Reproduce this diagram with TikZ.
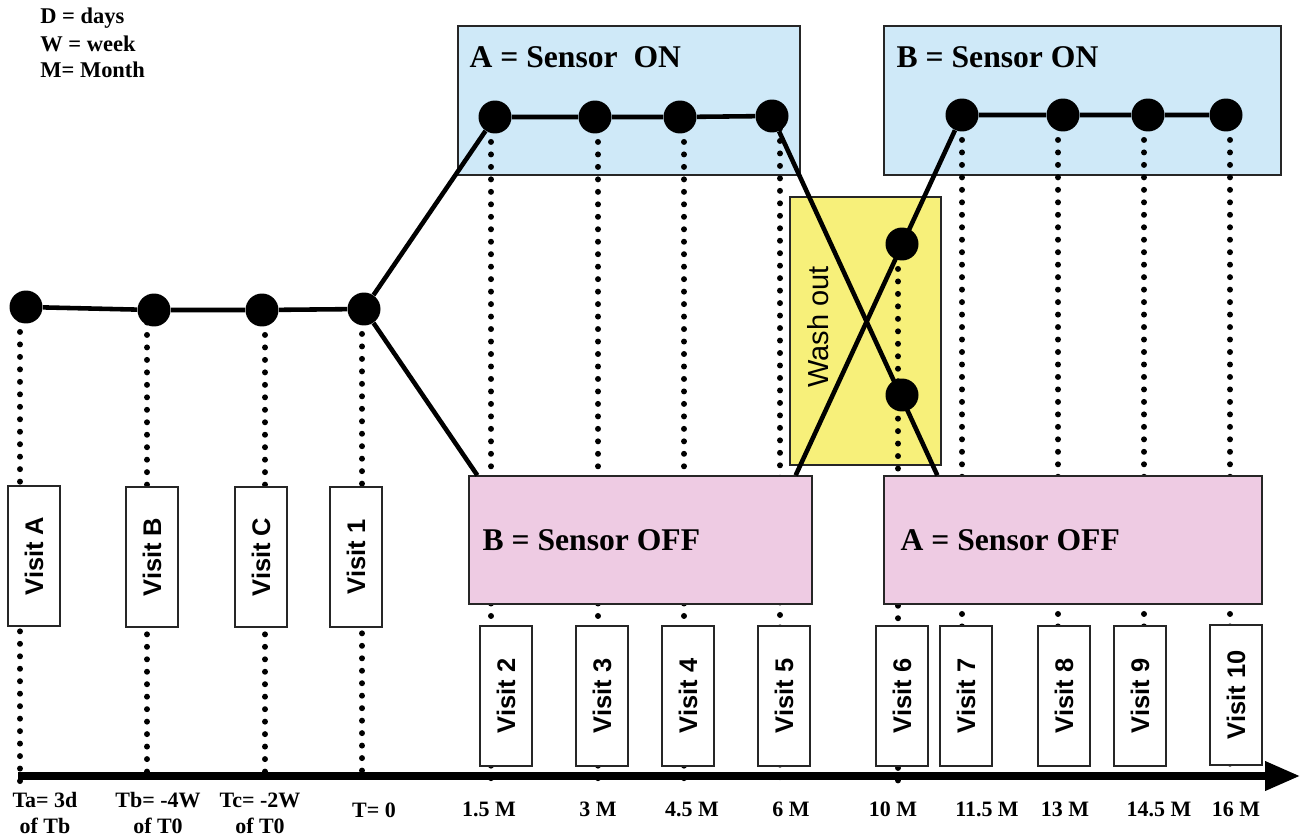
\documentclass[tikz,border=0pt]{standalone}
\usepackage{fontspec}
\setmainfont{Liberation Serif}
\setsansfont{Liberation Sans}
\usepackage{xcolor}
\usepackage{tikz}
\usetikzlibrary{positioning,calc,arrows.meta}
\definecolor{sensoron}{HTML}{CFE9F8}
\definecolor{sensoroff}{HTML}{EECBE3}
\definecolor{washout}{HTML}{F7F07A}

\begin{document}
\begin{tikzpicture}[
    x=0.02cm, y=-0.02cm,
    armbox/.style={draw=black!85, line width=0.8pt, inner sep=0pt},
    onbox/.style={armbox, fill=sensoron, minimum height=2.98cm},
    offbox/.style={armbox, fill=sensoroff, minimum height=2.56cm},
    washbox/.style={armbox, fill=washout, minimum width=3.02cm, minimum height=5.36cm},
    visit/.style={draw=black!85, line width=0.8pt, fill=white, rotate=90, minimum width=2.8cm, minimum height=1.04cm, inner sep=0pt, font=\sffamily\bfseries\fontsize{14.5}{16}\selectfont},
    vdot/.style={circle, fill=black, minimum size=0.66cm, inner sep=0pt},
    link/.style={line width=2.6pt},
    guide/.style={line width=3.4pt, line cap=round, dash pattern=on 0pt off 7.1pt},
    senslbl/.style={font=\bfseries\fontsize{18}{20}\selectfont, inner sep=0pt, anchor=west},
    tlbl/.style={font=\bfseries\fontsize{12.5}{14.8}\selectfont, align=center, inner sep=0pt},
    legend/.style={font=\bfseries\fontsize{12.8}{14}\selectfont, inner sep=0pt, anchor=west}
  ]
  \useasboundingbox (0,0) rectangle (1302,838);
  % legend
  \node[legend] (legd) at (40,18) {D = days};
  \node[legend] (legw) at (40,44) {W = week};
  \node[legend] (legm) at (40,70) {M= Month};
  % arm boxes behind the guides
  \node[onbox, minimum width=6.84cm] (aon) at (629,100.5) {};
  \node[onbox, minimum width=7.94cm] (bon) at (1082.5,100.5) {};
  \node[washbox] (wash) at (865.5,331) {};
  \node[font=\sffamily\fontsize{16.5}{18}\selectfont, rotate=90] (washlbl) at (818,327) {Wash out};
  \node[senslbl] (aonlbl) at ([xshift=0.24cm, yshift=-0.64cm]aon.north west) {A = Sensor\ \ ON};
  \node[senslbl] (bonlbl) at ([xshift=0.26cm, yshift=-0.64cm]bon.north west) {B = Sensor ON};
  % measurement points
  \node[vdot] (dA) at (26,307) {};
  \node[vdot] (dB) at (154,310) {};
  \node[vdot] (dC) at (262,310) {};
  \node[vdot] (d1) at (364,309) {};
  \node[vdot] (d2) at (495,117) {};
  \node[vdot] (d3) at (595,117) {};
  \node[vdot] (d4) at (680,117) {};
  \node[vdot] (d5) at (772,116) {};
  \node[vdot] (d6a) at (902,244) {};
  \node[vdot] (d6b) at (902,395) {};
  \node[vdot] (d7) at (962,115) {};
  \node[vdot] (d8) at (1063,115) {};
  \node[vdot] (d9) at (1148,115) {};
  \node[vdot] (d10) at (1226,115) {};
  % ticks on the time axis
  \coordinate (tA) at (20,783);
  \coordinate (tB) at (147,783);
  \coordinate (tC) at (265,783);
  \coordinate (t1) at (362,783);
  \coordinate (t2) at (491,783);
  \coordinate (t3) at (598,783);
  \coordinate (t4) at (684,783);
  \coordinate (t5) at (780,783);
  \coordinate (t6) at (898,783);
  \coordinate (t7) at (962,783);
  \coordinate (t8) at (1058,783);
  \coordinate (t9) at (1144,783);
  \coordinate (t10) at (1230,783);
  % guides down to the axis
  \draw[guide] (tA |- dA) -- (tA);
  \draw[guide] (tB |- dB) -- (tB);
  \draw[guide] (tC |- dC) -- (tC);
  \draw[guide] (t1 |- d1) -- (t1);
  \draw[guide] (t2 |- d2) -- (t2);
  \draw[guide] (t3 |- d3) -- (t3);
  \draw[guide] (t4 |- d4) -- (t4);
  \draw[guide] (t5 |- d5) -- (t5);
  \draw[guide] (t6 |- d6a) -- (t6);
  \draw[guide] (t7 |- d7) -- (t7);
  \draw[guide] (t8 |- d8) -- (t8);
  \draw[guide] (t9 |- d9) -- (t9);
  \draw[guide] (t10 |- d10) -- (t10);
  % off boxes in front of the guides
  \node[offbox, minimum width=6.86cm] (boff) at (640.5,540) {};
  \node[offbox, minimum width=7.56cm] (aoff) at (1073,540) {};
  \node[senslbl] (bofflbl) at ([xshift=0.28cm]boff.west) {B = Sensor OFF};
  \node[senslbl] (aofflbl) at ([xshift=0.34cm]aoff.west) {A = Sensor OFF};
  % arms
  \draw[link] (dA) -- (dB) -- (dC) -- (d1);
  \draw[link] (d1) -- (d2) -- (d3) -- (d4) -- (d5) -- ([xshift=1.08cm]aoff.north west);
  \draw[link] (d1) -- ([xshift=0.18cm]boff.north west);
  \draw[link] ([xshift=-0.34cm]boff.north east) -- (d7) -- (d8) -- (d9) -- (d10);
  % visits
  \node[visit] (vA) at (34,556) {Visit A};
  \node[visit] (vB) at (152,557) {Visit B};
  \node[visit] (vC) at (261,557) {Visit C};
  \node[visit] (v1) at (356,557) {Visit 1};
  \node[visit] (v2) at (506,696) {Visit 2};
  \node[visit] (v3) at (602,696) {Visit 3};
  \node[visit] (v4) at (688,696) {Visit 4};
  \node[visit] (v5) at (784,696) {Visit 5};
  \node[visit] (v6) at (902,696) {Visit 6};
  \node[visit] (v7) at (966,696) {Visit 7};
  \node[visit] (v8) at (1064,696) {Visit 8};
  \node[visit] (v9) at (1140,696) {Visit 9};
  \node[visit] (v10) at (1236,695) {Visit 10};
  % time axis
  \coordinate (axstart) at (18,776);
  \coordinate (axend) at (1300,776);
  \draw[line width=4pt, -{Triangle[length=0.7cm, width=0.56cm]}] (axstart) -- (axend);
  \node[tlbl] (lA) at (45,813) {Ta= 3d\\of Tb};
  \node[tlbl] (lB) at (158,813) {Tb= -4W\\of T0};
  \node[tlbl] (lC) at (260,813) {Tc= -2W\\of T0};
  \node[tlbl] (l1) at (374,810) {T= 0};
  \node[tlbl] (l2) at (489,809) {1.5 M};
  \node[tlbl] (l3) at (598,809) {3 M};
  \node[tlbl] (l4) at (692,809) {4.5 M};
  \node[tlbl] (l5) at (791,809) {6 M};
  \node[tlbl] (l6) at (893,809) {10 M};
  \node[tlbl] (l7) at (987,809) {11.5 M};
  \node[tlbl] (l8) at (1065,809) {13 M};
  \node[tlbl] (l9) at (1159,809) {14.5 M};
  \node[tlbl] (l10) at (1236,809) {16 M};
\end{tikzpicture}
\end{document}
